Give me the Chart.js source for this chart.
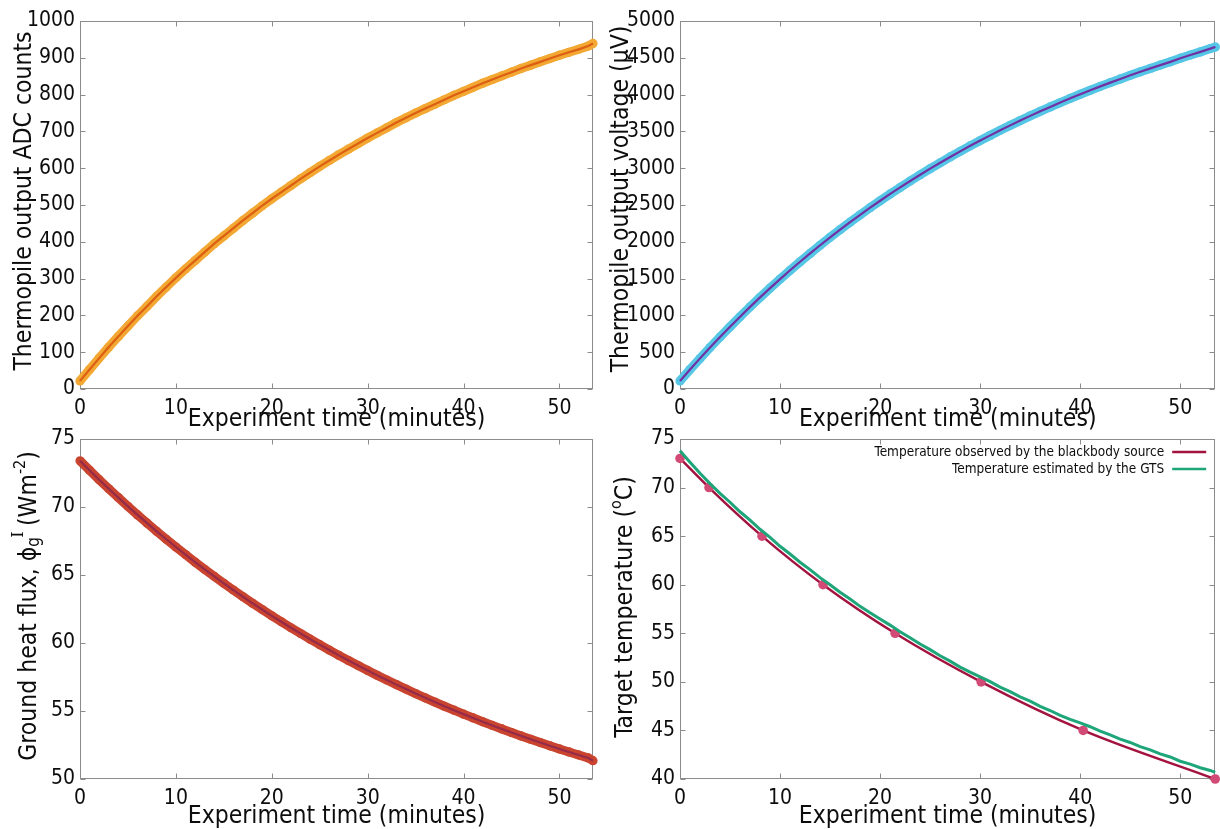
<!DOCTYPE html>
<html><head><meta charset="utf-8">
<script src="https://cdn.jsdelivr.net/npm/chart.js@4.4.0/dist/chart.umd.min.js"></script>
<style>
html,body{margin:0;padding:0;background:#fff;}
#wrap{position:relative;width:1220px;height:829px;overflow:hidden;background:#fff;}
canvas{position:absolute;}
</style></head><body>
<div id="wrap">
<canvas id="c1" width="610" height="440" style="left:0;top:0;width:610px;height:440px"></canvas>
<canvas id="c2" width="620" height="440" style="left:600px;top:0;width:620px;height:440px"></canvas>
<canvas id="c3" width="610" height="411" style="left:0;top:418px;width:610px;height:411px"></canvas>
<canvas id="c4" width="620" height="411" style="left:600px;top:418px;width:620px;height:411px"></canvas>
</div>
<script>
// ---------------- data ----------------
const timeMin = [0,1,2,3,4,5,6,7,8,9,10,11,12,13,14,15,16,17,18,19,20,21,22,23,24,25,26,27,28,29,30,31,32,33,34,35,36,37,38,39,40,41,42,43,44,45,46,47,48,49,50,51,52,53,53.5];
const adcCounts = [22,53,84,114,143,171,199,225,252,277,302,326,349,372,395,416,437,458,478,498,517,535,553,571,588,605,621,637,652,667,682,696,710,724,737,750,762,774,786,798,809,820,831,841,851,861,871,880,889,898,907,915,923,932,939];
const voltageMicroV = [110,264,416,563,707,846,983,1116,1245,1371,1493,1613,1729,1842,1953,2061,2165,2267,2367,2464,2558,2650,2739,2826,2911,2994,3074,3153,3229,3304,3376,3446,3515,3582,3647,3711,3773,3833,3892,3949,4005,4059,4112,4163,4213,4262,4310,4356,4401,4445,4495,4538,4580,4625,4648];
const heatFlux = [73.40,72.70,72.01,71.34,70.69,70.05,69.42,68.81,68.21,67.63,67.06,66.50,65.95,65.42,64.90,64.39,63.89,63.40,62.92,62.46,62.00,61.56,61.12,60.70,60.28,59.88,59.48,59.09,58.71,58.34,57.98,57.62,57.28,56.94,56.61,56.28,55.97,55.66,55.35,55.06,54.77,54.49,54.21,53.94,53.68,53.42,53.17,52.92,52.68,52.44,52.21,51.99,51.77,51.55,51.35];
const gtsTemp = [73.80,72.61,71.47,70.41,69.40,68.49,67.51,66.64,65.71,64.88,63.96,63.16,62.31,61.55,60.73,60.00,59.22,58.53,57.77,57.11,56.47,55.84,55.15,54.55,53.89,53.32,52.68,52.13,51.52,51.00,50.52,50.03,49.46,48.99,48.45,48.01,47.48,47.05,46.55,46.14,45.77,45.38,44.92,44.55,44.10,43.76,43.33,43.00,42.58,42.27,41.83,41.53,41.16,40.88,40.69];
const bbTime = [0,2.9,8.2,14.3,21.5,30.1,40.3,53.5];
const bbTemp = [73,70,65,60,55,50,45,40];

const xTickValues = [0,10,20,30,40,50];
const adcTickValues = [0,100,200,300,400,500,600,700,800,900,1000];
const voltTickValues = [0,500,1000,1500,2000,2500,3000,3500,4000,4500,5000];
const fluxTickValues = [50,55,60,65,70,75];
const tempTickValues = [40,45,50,55,60,65,70,75];
const legendLabels = ['Temperature observed by the blackbody source','Temperature estimated by the GTS'];

// ---------------- helpers ----------------
const FONT = "'DejaVu Sans Condensed', 'DejaVu Sans', sans-serif";
const TXT = '#0d0d0d';
const pts = (xs, ys) => xs.map((x, i) => ({x, y: ys[i]}));

const frame = {
  id: 'frame',
  beforeDatasetsDraw(chart) {
    const {ctx, chartArea: a, scales: {x, y}} = chart;
    ctx.save();
    ctx.strokeStyle = '#8c8c8c'; ctx.lineWidth = 1;
    const L = Math.round(a.left) + 0.5, R = Math.round(a.right) - 0.5;
    const T = Math.round(a.top) + 0.5, B = Math.round(a.bottom) - 0.5;
    ctx.strokeRect(L, T, R - L, B - T);
    const k = 5;
    ctx.beginPath();
    x.ticks.forEach(t => { const p = Math.round(x.getPixelForValue(t.value)) + 0.5;
      ctx.moveTo(p, B); ctx.lineTo(p, B - k); ctx.moveTo(p, T); ctx.lineTo(p, T + k); });
    y.ticks.forEach(t => { const p = Math.round(y.getPixelForValue(t.value)) + 0.5;
      ctx.moveTo(L, p); ctx.lineTo(L + k, p); ctx.moveTo(R, p); ctx.lineTo(R - k, p); });
    ctx.stroke();
    ctx.restore();
  }
};

// rotated y-axis title with optional sub/superscript pieces
function richTitle(xPos, centerShift, segments) {
  return {
    id: 'richTitle',
    afterDraw(chart) {
      const {ctx, chartArea: a} = chart;
      ctx.save();
      ctx.translate(xPos, (a.top + a.bottom) / 2 + centerShift);
      ctx.rotate(-Math.PI / 2);
      let w = 0;
      const fontOf = s => s.size + 'px ' + (s.family || FONT);
      const widths = segments.map(s => { ctx.font = fontOf(s); const m = ctx.measureText(s.text).width; w += (s.noAdvance ? 0 : m); return m; });
      let cx = -w / 2;
      ctx.fillStyle = TXT; ctx.textBaseline = 'middle'; ctx.textAlign = 'left';
      segments.forEach((s, i) => { ctx.font = fontOf(s); ctx.fillText(s.text, cx + (s.dx || 0), s.dy || 0); if (!s.noAdvance) cx += widths[i]; });
      ctx.restore();
    }
  };
}

function legendPlugin(labels, colors) {
  return {
    id: 'insideLegend',
    afterDraw(chart) {
      const {ctx, chartArea: a} = chart;
      ctx.save();
      ctx.font = '13.5px ' + FONT;
      ctx.textAlign = 'right'; ctx.textBaseline = 'middle';
      labels.forEach((lab, i) => {
        const yy = a.top + 13 + i * 17;
        ctx.fillStyle = TXT;
        ctx.fillText(lab, a.right - 51, yy);
        ctx.strokeStyle = colors[i]; ctx.lineWidth = 2.5;
        ctx.beginPath(); ctx.moveTo(a.right - 43, yy); ctx.lineTo(a.right - 9, yy); ctx.stroke();
      });
      ctx.restore();
    }
  };
}

function makeScales(xTicks, yTicks, ymin, ymax, xTitle, xH, titleBottomPad) {
  return {
    x: {
      type: 'linear', min: 0, max: 53.5,
      afterBuildTicks: s => { s.ticks = xTicks.map(v => ({value: v})); },
      afterFit: s => { s.height = xH; },
      grid: {display: false, drawTicks: false}, border: {display: false},
      ticks: {font: {family: FONT, size: 21, lineHeight: 1}, color: TXT, padding: 9, maxRotation: 0, autoSkip: false, callback: v => String(v)},
      title: {display: true, text: xTitle, color: TXT, font: {family: FONT, size: 24.5, lineHeight: 1}, padding: {top: 0, bottom: titleBottomPad}}
    },
    y: {
      type: 'linear', min: ymin, max: ymax,
      afterBuildTicks: s => { s.ticks = yTicks.map(v => ({value: v})); },
      afterFit: s => { s.width = 80; },
      grid: {display: false, drawTicks: false}, border: {display: false},
      ticks: {font: {family: FONT, size: 21}, color: TXT, padding: 5, autoSkip: false, callback: v => String(v)},
      title: {display: false}
    }
  };
}

function baseOptions(scales, padding) {
  return {
    responsive: false, animation: false, devicePixelRatio: 1,
    layout: {padding},
    plugins: {legend: {display: false}, tooltip: {enabled: false}},
    scales
  };
}

function bandDatasets(data, bandColor, lineColor) {
  return [
    {data, showLine: true, borderColor: lineColor, borderWidth: 2.2, pointRadius: 0, order: 0, clip: false},
    {data, showLine: true, borderColor: bandColor, borderWidth: 9, pointRadius: 4.6, pointBackgroundColor: bandColor, pointBorderWidth: 0, order: 1, clip: false}
  ];
}

const XT = 'Experiment time (minutes)';

// ---------------- panel 1 ----------------
new Chart(document.getElementById('c1'), {
  type: 'scatter',
  data: {datasets: bandDatasets(pts(timeMin, adcCounts), '#f2a833', '#dc5f12')},
  options: baseOptions(makeScales(xTickValues, adcTickValues, 0, 1000, XT, 51, 8), {top: 21, right: 17, bottom: 0, left: 0}),
  plugins: [frame, richTitle(25, -4, [{text: 'Thermopile output ADC counts', size: 24.5}])]
});

// ---------------- panel 2 ----------------
new Chart(document.getElementById('c2'), {
  type: 'scatter',
  data: {datasets: bandDatasets(pts(timeMin, voltageMicroV), '#56c6e6', '#7131a3')},
  options: baseOptions(makeScales(xTickValues, voltTickValues, 0, 5000, XT, 51, 8), {top: 21, right: 4, bottom: 0, left: 0}),
  plugins: [frame, richTitle(22, -6, [{text: 'Thermopile output voltage (µV)', size: 24.5}])]
});

// ---------------- panel 3 ----------------
new Chart(document.getElementById('c3'), {
  type: 'scatter',
  data: {datasets: bandDatasets(pts(timeMin, heatFlux), '#c9442f', '#962a4a')},
  options: baseOptions(makeScales(xTickValues, fluxTickValues, 50, 75, XT, 50, 0), {top: 21, right: 17, bottom: 0, left: 0}),
  plugins: [frame, richTitle(30, -3, [
    {text: 'Ground heat flux, ϕ', size: 24.5},
    {text: 'g', size: 17, dy: 5, noAdvance: true},
    {text: 'I', size: 16, dy: -11, dx: 9, noAdvance: true, family: "'DejaVu Serif', serif"},
    {text: '   ', size: 16},
    {text: ' (Wm', size: 24.5},
    {text: '-2', size: 16, dy: -9},
    {text: ')', size: 24.5}
  ])]
});

// ---------------- panel 4 ----------------
new Chart(document.getElementById('c4'), {
  type: 'scatter',
  data: {datasets: [
    {label: legendLabels[1], data: pts(timeMin, gtsTemp), showLine: true, borderColor: '#1ea57a', borderWidth: 3, pointRadius: 0, order: 0, clip: false},
    {label: legendLabels[0], data: pts(bbTime, bbTemp), showLine: true, cubicInterpolationMode: 'monotone', borderColor: '#a3133f', borderWidth: 2.5,
     pointRadius: 4.8, pointBackgroundColor: '#d24a76', pointBorderWidth: 0, order: 1, clip: false}
  ]},
  options: baseOptions(makeScales(xTickValues, tempTickValues, 40, 75, XT, 50, 0), {top: 21, right: 4, bottom: 0, left: 0}),
  plugins: [frame, richTitle(26, -2, [
    {text: 'Target temperature (', size: 24.5},
    {text: 'o', size: 16, dy: -9},
    {text: 'C)', size: 24.5}
  ]), legendPlugin(legendLabels, ['#a3133f', '#1ea57a'])]
});
</script>
</body></html>
